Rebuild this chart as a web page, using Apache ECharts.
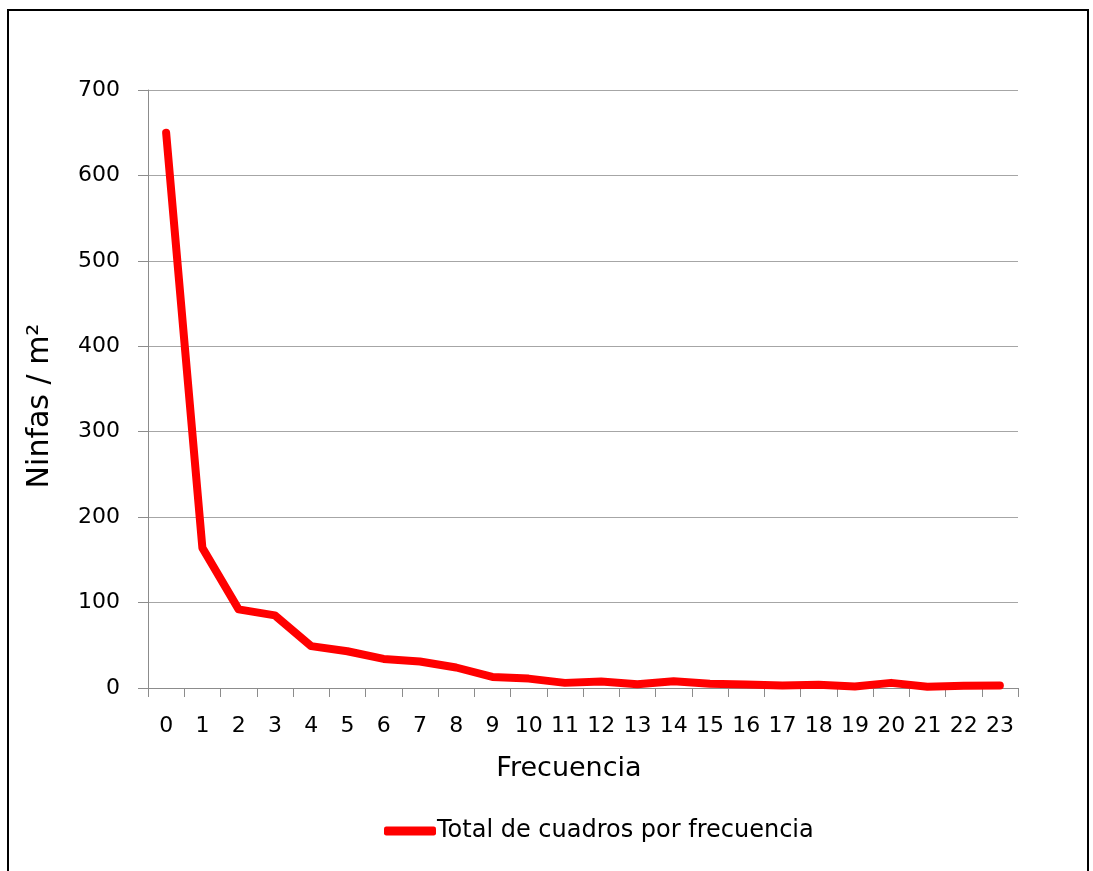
<!DOCTYPE html>
<html>
<head>
<meta charset="utf-8">
<script src="https://cdn.jsdelivr.net/npm/echarts@6/dist/echarts.min.js"></script>
<style>html,body{margin:0;padding:0;background:#fff;}#c{width:1093px;height:871px;}</style>
</head>
<body>
<div id="c"></div>
<script>
const categories = ['0','1','2','3','4','5','6','7','8','9','10','11','12','13','14','15','16','17','18','19','20','21','22','23'];
const seriesName = 'Total de cuadros por frecuencia';
const values = [650, 164, 92, 85, 49, 43, 34, 31, 24, 13, 11, 6, 7.5, 4.5, 8, 5, 4, 3, 3.8, 1.8, 6, 1.5, 2.5, 3];
const yTicks = {min: 0, max: 700, interval: 100};

const chart = echarts.init(document.getElementById('c'));
const font = 'DejaVu Sans, Verdana, sans-serif';
chart.setOption({
  animation: false,
  backgroundColor: '#fff',
  graphic: [{type: 'rect', shape: {x: 8, y: 10, width: 1080, height: 880}, style: {fill: 'none', stroke: '#000', lineWidth: 2}, silent: true}],
  grid: {left: 148, right: 75, top: 90, bottom: 183},
  legend: {
    top: 814, left: 379,
    data: [{name: seriesName, icon: 'roundRect'}],
    itemWidth: 52, itemHeight: 9,
    textStyle: {fontFamily: font, fontSize: 24, color: '#000', padding: [0, 0, 0, -4]}
  },
  xAxis: {
    type: 'category', data: categories, boundaryGap: true,
    name: 'Frecuencia', nameLocation: 'middle', nameGap: 67,
    nameTextStyle: {fontFamily: font, fontSize: 27, color: '#000', padding: [0, 28, 0, 0]},
    axisLine: {lineStyle: {color: '#8c8c8c', width: 1}},
    axisTick: {show: true, alignWithLabel: false, length: 9, lineStyle: {color: '#8c8c8c'}},
    axisLabel: {fontFamily: font, fontSize: 22, color: '#000', margin: 27, interval: 0}
  },
  yAxis: {
    type: 'value', min: yTicks.min, max: yTicks.max, interval: yTicks.interval,
    name: 'Ninfas / m²', nameLocation: 'middle', nameGap: 93,
    nameTextStyle: {fontFamily: font, fontSize: 30, color: '#000', padding: [0, 34, 0, 0]},
    axisLine: {show: true, lineStyle: {color: '#8c8c8c', width: 1}},
    axisTick: {show: true, length: 10, lineStyle: {color: '#8c8c8c'}},
    axisLabel: {fontFamily: font, fontSize: 22, color: '#000', margin: 28},
    splitLine: {show: true, lineStyle: {color: '#a6a6a6', width: 1}}
  },
  series: [{
    name: seriesName, type: 'line', data: values,
    showSymbol: false, symbol: 'none',
    itemStyle: {color: '#ff0000'},
    lineStyle: {color: '#ff0000', width: 8, cap: 'round', join: 'round'}
  }]
});
</script>
</body>
</html>
